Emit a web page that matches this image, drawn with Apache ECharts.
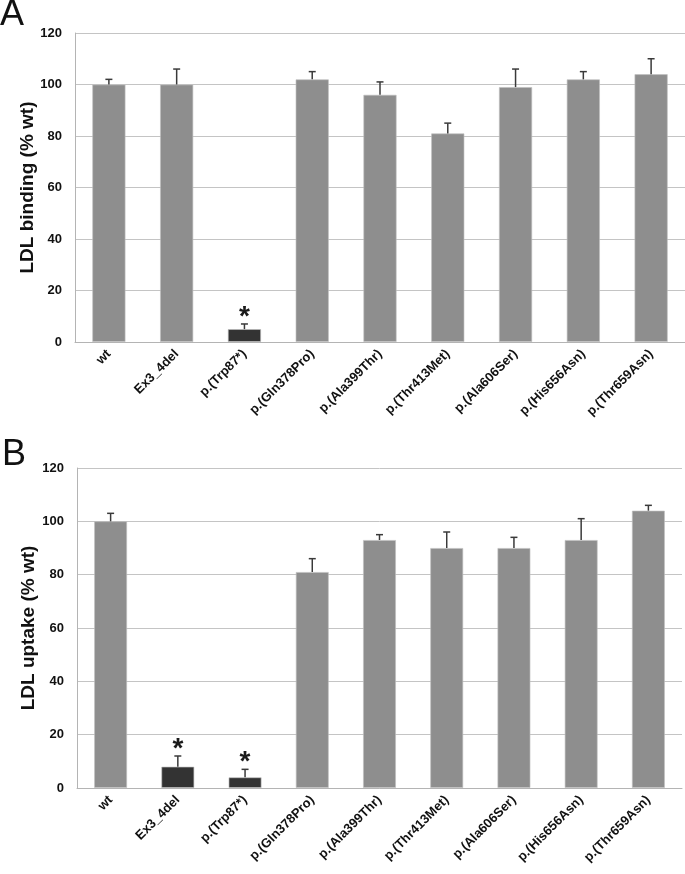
<!DOCTYPE html>
<html>
<head>
<meta charset="utf-8">
<script src="https://cdn.jsdelivr.net/npm/echarts@6/dist/echarts.min.js"></script>
<style>
html,body{margin:0;padding:0;background:#fff;}
#chart{width:685px;height:874px;}
</style>
</head>
<body>
<div id="chart"></div>
<script>
// ---- data ----
const categories = ['wt', 'Ex3_4del', 'p.(Trp87*)', 'p.(Gln378Pro)', 'p.(Ala399Thr)', 'p.(Thr413Met)', 'p.(Ala606Ser)', 'p.(His656Asn)', 'p.(Thr659Asn)'];
const bindingMean = [100, 100, 5, 102, 96, 81, 99, 102, 104];
const bindingErr  = [2, 6, 2, 3, 5, 4, 7, 3, 6];
const bindingSig  = [0, 0, 1, 0, 0, 0, 0, 0, 0];
const uptakeMean  = [100, 8, 4, 81, 93, 90, 90, 93, 104];
const uptakeErr   = [3, 4, 3, 5, 2, 6, 4, 8, 2];
const uptakeSig   = [0, 1, 1, 0, 0, 0, 0, 0, 0];
const yTicks = { min: 0, max: 120, interval: 20 };
const panelTitles = ['LDL binding (% wt)', 'LDL uptake (% wt)'];
const panelLetters = ['A', 'B'];

// ---- styles ----
const FONT = '"Liberation Sans", Arial, sans-serif';
const GRAY = '#8e8e8e', DARK = '#333333';

const chart = echarts.init(document.getElementById('chart'), null, { renderer: 'canvas' });

function barData(means, sig) {
  return means.map((v, i) => ({
    value: v,
    itemStyle: { color: sig[i] ? DARK : GRAY }
  }));
}
function errData(means, errs, sig) {
  return means.map((v, i) => [i, v, errs[i], sig[i]]);
}
function errRender(params, api) {
  const i = api.value(0);
  const m = api.value(1), e = api.value(2), s = api.value(3);
  const base = api.coord([i, m]);
  const top = api.coord([i, m + e]);
  const st = { stroke: '#3a3a3a', lineWidth: 1.5 };
  const children = [
    { type: 'line', shape: { x1: base[0], y1: base[1], x2: top[0], y2: top[1] }, style: st },
    { type: 'line', shape: { x1: top[0] - 3.5, y1: top[1], x2: top[0] + 3.5, y2: top[1] }, style: st }
  ];
  if (s) {
    children.push({
      type: 'text', x: top[0], y: top[1] - 7,
      style: { text: '*', font: 'bold 28px ' + FONT, fill: '#1a1a1a', align: 'center', verticalAlign: 'middle' }
    });
  }
  return { type: 'group', children };
}

function xAx(gi) {
  return {
    type: 'category', gridIndex: gi, data: categories,
    axisLine: { lineStyle: { color: '#b4b4b4', width: 1 } },
    axisTick: { show: false },
    axisLabel: { rotate: 45, margin: 10, interval: 0, color: '#111', fontFamily: FONT, fontWeight: 'bold', fontSize: 13 }
  };
}
function yAx(gi, name, gap) {
  return {
    type: 'value', gridIndex: gi, min: yTicks.min, max: yTicks.max, interval: yTicks.interval,
    name: name, nameLocation: 'middle', nameGap: gap, nameRotate: 90, nameMoveOverlap: false,
    nameTextStyle: { fontFamily: FONT, fontWeight: 'bold', fontSize: 19, color: '#111' },
    axisLine: { show: true, lineStyle: { color: '#b4b4b4', width: 1 } },
    axisTick: { show: false },
    splitLine: { lineStyle: { color: '#c4c4c4', width: 1 } },
    axisLabel: { margin: 13, color: '#111', fontFamily: FONT, fontWeight: 'bold', fontSize: 13 }
  };
}

const option = {
  backgroundColor: '#fff',
  animation: false,
  graphic: [
    { type: 'text', left: 0, top: -3, style: { text: panelLetters[0], font: '36px ' + FONT, fill: '#111' } },
    { type: 'text', left: 2, top: 437, style: { text: panelLetters[1], font: '36px ' + FONT, fill: '#111' } }
  ],
  grid: [
    { left: 75, top: 33, width: 610, height: 309 },
    { left: 77, top: 468, width: 605, height: 320 }
  ],
  xAxis: [xAx(0), xAx(1)],
  yAxis: [yAx(0, panelTitles[0], 38), yAx(1, panelTitles[1], 39)],
  series: [
    { type: 'bar', xAxisIndex: 0, yAxisIndex: 0, barWidth: '49%', data: barData(bindingMean, bindingSig),
      itemStyle: { borderColor: 'rgba(190,190,190,0.8)', borderWidth: 0.8 } },
    { type: 'custom', xAxisIndex: 0, yAxisIndex: 0, renderItem: errRender, data: errData(bindingMean, bindingErr, bindingSig), z: 5 },
    { type: 'bar', xAxisIndex: 1, yAxisIndex: 1, barWidth: '49%', data: barData(uptakeMean, uptakeSig),
      itemStyle: { borderColor: 'rgba(190,190,190,0.8)', borderWidth: 0.8 } },
    { type: 'custom', xAxisIndex: 1, yAxisIndex: 1, renderItem: errRender, data: errData(uptakeMean, uptakeErr, uptakeSig), z: 5 }
  ]
};
chart.setOption(option);
</script>
</body>
</html>
